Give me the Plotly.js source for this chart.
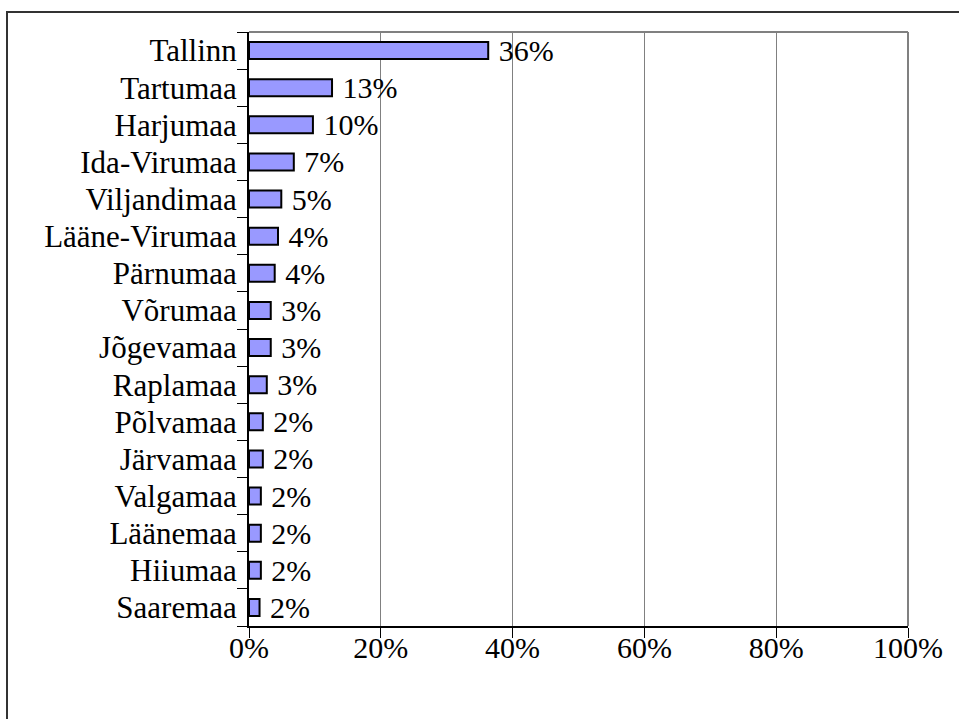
<!DOCTYPE html>
<html>
<head>
<meta charset="utf-8">
<script src="https://cdn.plot.ly/plotly-3.0.1.min.js"></script>
<style>
  html, body { margin: 0; padding: 0; overflow: hidden; background: #fff; }
  #chart { position: absolute; left: 0; top: 0; width: 959px; height: 719px; }
  #frame { position: absolute; left: 6px; top: 11px; width: 1100px; height: 900px;
           border: 2px solid #333; pointer-events: none; }
</style>
</head>
<body>
<div id="chart"></div>
<div id="frame"></div>
<script>
const regions = ["Tallinn", "Tartumaa", "Harjumaa", "Ida-Virumaa", "Viljandimaa", "Lääne-Virumaa",
  "Pärnumaa", "Võrumaa", "Jõgevamaa", "Raplamaa", "Põlvamaa", "Järvamaa", "Valgamaa",
  "Läänemaa", "Hiiumaa", "Saaremaa"];
const shares = [0.363, 0.126, 0.097, 0.068, 0.049, 0.044, 0.039, 0.033, 0.033, 0.027,
  0.021, 0.021, 0.018, 0.018, 0.018, 0.016];
const xTicks = [0, 0.2, 0.4, 0.6, 0.8, 1.0];

const family = "Liberation Serif, Times New Roman, serif";
const font = { family: family, size: 30, color: "#000" };
const yFont = { family: family, size: 31, color: "#000" };

const trace = {
  type: "bar",
  orientation: "h",
  y: regions,
  x: shares,
  marker: { color: "#9999FF", line: { color: "#000", width: 2 } },
  texttemplate: " %{x:.0%}",
  textposition: "outside",
  constraintext: "none",
  cliponaxis: false,
  textfont: font,
  hoverinfo: "skip"
};

const layout = {
  width: 959, height: 719,
  margin: { l: 249, r: 51, t: 32, b: 93 },
  paper_bgcolor: "#fff", plot_bgcolor: "#fff",
  font: font,
  showlegend: false,
  bargap: 0.54,
  xaxis: {
    range: [0, 1], tickmode: "array", tickvals: xTicks, tickformat: ".0%",
    showgrid: true, gridcolor: "#808080", gridwidth: 1,
    showline: true, linecolor: "#000", linewidth: 2,
    ticks: "outside", ticklen: 10, tickcolor: "#000", tickwidth: 1,
    ticklabelstandoff: -16,
    zeroline: false, tickfont: font, fixedrange: true
  },
  yaxis: {
    type: "category", autorange: "reversed",
    tickmode: "array", tickvals: regions, ticktext: regions,
    showgrid: false, showline: true, linecolor: "#000", linewidth: 2,
    ticks: "outside", ticklen: 10, tickcolor: "#000", tickwidth: 1,
    ticklabelstandoff: 4,
    tickson: "boundaries", tickfont: yFont, fixedrange: true
  },
  shapes: [
    { type: "line", xref: "paper", yref: "paper", x0: 0, x1: 1, y0: 1, y1: 1,
      line: { color: "#808080", width: 2 } },
    { type: "line", xref: "paper", yref: "paper", x0: 1, x1: 1, y0: 0, y1: 1,
      line: { color: "#808080", width: 2 } }
  ]
};

Plotly.newPlot("chart", [trace], layout, { displayModeBar: false, staticPlot: true });
</script>
</body>
</html>
